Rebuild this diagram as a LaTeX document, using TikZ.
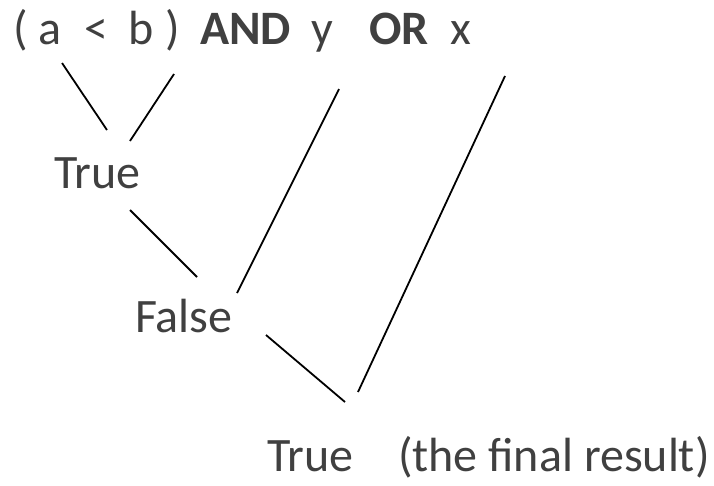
\documentclass[tikz,border=0pt]{standalone}
\usepackage{fontspec}
\setmainfont{Carlito}
\definecolor{txt}{HTML}{404040}
\begin{document}
\begin{tikzpicture}[x=1pt,y=-1pt,
  lbl/.style={anchor=base west,inner sep=0pt,outer sep=0pt,text=txt,font=\fontsize{48}{54}\selectfont},
  edge/.style={draw=black,line width=1.8pt}]
\useasboundingbox (0,0) rectangle (714,485);
% top expression
\node[lbl] (lp) at (13,44) {(};
\node[lbl] (a) at (38,44) {a};
\node[lbl] (lt) at (84,44) {<};
\node[lbl] (b) at (128,44) {b};
\node[lbl] (rp) at (165,44) {)};
\node[lbl,font=\fontsize{48}{54}\selectfont\bfseries] (and) at (200,44) {AND};
\node[lbl] (y) at (311,44) {y};
\node[lbl,font=\fontsize{48}{54}\selectfont\bfseries] (or) at (369,44) {OR};
\node[lbl] (x) at (450,44) {x};
% results
\node[lbl] (t1) at (54,188) {True};
\node[lbl] (f1) at (135,332) {False};
\node[lbl] (t2) at (267,471) {True};
\node[lbl] (note) at (398,471) {(the final result)};
% connector end points
\coordinate (a1) at (62,63);   \coordinate (a2) at (107,130);
\coordinate (b1) at (174,74);  \coordinate (b2) at (130,141);
\coordinate (c1) at (130,210); \coordinate (c2) at (197,277);
\coordinate (d1) at (339,89);  \coordinate (d2) at (237,293);
\coordinate (e1) at (266,335); \coordinate (e2) at (345,402);
\coordinate (g1) at (505,76);  \coordinate (g2) at (358,392);
\draw[edge] (a1) -- (a2);
\draw[edge] (b1) -- (b2);
\draw[edge] (c1) -- (c2);
\draw[edge] (d1) -- (d2);
\draw[edge] (e1) -- (e2);
\draw[edge] (g1) -- (g2);
\end{tikzpicture}
\end{document}
